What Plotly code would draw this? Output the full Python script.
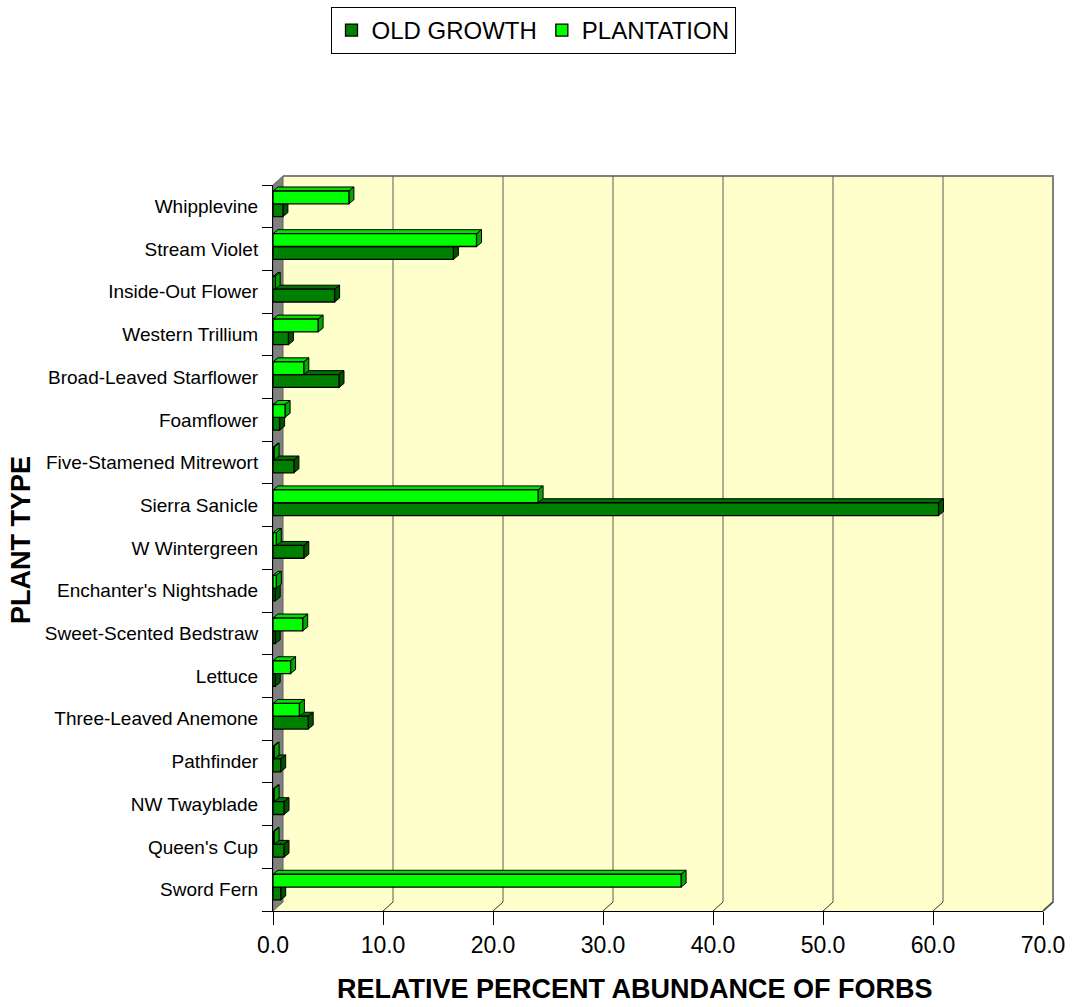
import plotly.graph_objects as go

# ---------------- data (bottom -> top) ----------------
plants = ["Sword Fern", "Queen's Cup", "NW Twayblade", "Pathfinder",
          "Three-Leaved Anemone", "Lettuce", "Sweet-Scented Bedstraw",
          "Enchanter's Nightshade", "W Wintergreen", "Sierra Sanicle",
          "Five-Stamened Mitrewort", "Foamflower", "Broad-Leaved Starflower",
          "Western Trillium", "Inside-Out Flower", "Stream Violet", "Whipplevine"]
old_growth = [0.7, 1.0, 1.0, 0.7, 3.2, 0.2, 0.2, 0.2, 2.8, 60.5,
              1.9, 0.6, 6.0, 1.4, 5.6, 16.4, 0.9]
plantation = [37.1, 0.1, 0.1, 0.1, 2.4, 1.6, 2.7, 0.3, 0.3, 24.1,
              0.1, 1.1, 2.8, 4.1, 0.2, 18.5, 6.9]
x_ticks = [0, 10, 20, 30, 40, 50, 60, 70]

# ---------------- geometry / style ----------------
W, H = 1073, 1007
L, R, T, B = 273, 30, 185, 96
PW, PH = W - L - R, H - T - B
XMAX = 70
NCAT = len(plants)
DEPTH_X, DEPTH_Y = 10, 9          # 3-D wall offset in px
CAP_X, CAP_Y = 5, 4               # 3-D bar cap offset in px
BAR_W = 0.30
OFF_OLD, OFF_PLA = -0.24, 0.06
FONT = "Liberation Sans, Arial, sans-serif"

pos = list(range(NCAT))
px_per_x = PW / XMAX
px_per_y = PH / NCAT
dxu = CAP_X / px_per_x
dyu = CAP_Y / px_per_y


def xp(px):
    return (px - L) / PW


def yp(py):
    return (T + PH - py) / PH


fig = go.Figure()
fig.add_trace(go.Bar(name="OLD GROWTH", y=pos, x=old_growth, orientation="h",
                     width=BAR_W, offset=OFF_OLD,
                     marker=dict(color="#008000", line=dict(color="black", width=1.3))))
fig.add_trace(go.Bar(name="PLANTATION", y=pos, x=plantation, orientation="h",
                     width=BAR_W, offset=OFF_PLA,
                     marker=dict(color="#00FF00", line=dict(color="black", width=1.3))))

shapes = []
back_l, back_r = L + DEPTH_X, L + PW + DEPTH_X
back_t, back_b = T - DEPTH_Y, T + PH - DEPTH_Y
# back wall
shapes.append(dict(type="rect", xref="paper", yref="paper", layer="below",
                   x0=xp(back_l), x1=xp(back_r), y0=yp(back_b), y1=yp(back_t),
                   fillcolor="#FFFFCC", line=dict(width=0)))
# floor
shapes.append(dict(type="path", xref="paper", yref="paper", layer="below",
                   path=f"M{xp(L)},{yp(T+PH)} L{xp(back_l)},{yp(back_b)} L{xp(back_r)},{yp(back_b)} L{xp(L+PW)},{yp(T+PH)} Z",
                   fillcolor="#FFFFCC", line=dict(width=0)))
# back wall top and right border
shapes.append(dict(type="path", xref="paper", yref="paper", layer="below",
                   path=f"M{xp(back_l)},{yp(back_t)} L{xp(back_r)},{yp(back_t)} L{xp(back_r)},{yp(back_b)} L{xp(L+PW)},{yp(T+PH)}",
                   line=dict(color="#808080", width=2)))
# left wall
shapes.append(dict(type="path", xref="paper", yref="paper", layer="below",
                   path=f"M{xp(L)},{yp(T)} L{xp(back_l)},{yp(back_t)} L{xp(back_l)},{yp(back_b)} L{xp(L)},{yp(T+PH)} Z",
                   fillcolor="#808080", line=dict(color="#606060", width=1)))
# gridlines on back wall and floor diagonals
for v in x_ticks[1:]:
    fx = L + v * px_per_x
    bx = fx + DEPTH_X
    if v < XMAX:
        shapes.append(dict(type="line", xref="paper", yref="paper", layer="below",
                           x0=xp(bx), x1=xp(bx), y0=yp(back_b), y1=yp(back_t),
                           line=dict(color="#5a5a5a", width=1)))
    shapes.append(dict(type="line", xref="paper", yref="paper", layer="below",
                       x0=xp(fx), x1=xp(bx), y0=yp(T + PH), y1=yp(back_b),
                       line=dict(color="#303030", width=1)))


# 3-D caps for bars (data coordinates, drawn beneath the bar faces)
def caps(values, offset, top_col, side_col):
    out = []
    for p, v in zip(pos, values):
        y0 = p + offset
        y1 = y0 + BAR_W
        out.append(dict(type="path", xref="x", yref="y", layer="between",
                        path=f"M0,{y1} L{v},{y1} L{v+dxu},{y1+dyu} L{dxu},{y1+dyu} Z",
                        fillcolor=top_col, line=dict(color="black", width=1)))
        out.append(dict(type="path", xref="x", yref="y", layer="between",
                        path=f"M{v},{y0} L{v+dxu},{y0+dyu} L{v+dxu},{y1+dyu} L{v},{y1} Z",
                        fillcolor=side_col, line=dict(color="black", width=1)))
    return out


shapes += caps(old_growth, OFF_OLD, "#006e00", "#005200")
shapes += caps(plantation, OFF_PLA, "#00e000", "#00a800")

fig.update_layout(
    width=W, height=H,
    margin=dict(l=L, r=R, t=T, b=B, autoexpand=False),
    paper_bgcolor="white", plot_bgcolor="rgba(0,0,0,0)",
    font=dict(family=FONT, color="black"),
    barmode="group", showlegend=True,
    shapes=shapes,
    legend=dict(orientation="h", x=xp(533), y=yp(7), xanchor="center", yanchor="top",
                bgcolor="white", bordercolor="black", borderwidth=1,
                font=dict(size=24, family=FONT), itemwidth=30, tracegroupgap=0),
    xaxis=dict(range=[0, XMAX], tickmode="array", tickvals=x_ticks,
               ticktext=[f"{v:.1f}" for v in x_ticks],
               showgrid=False, zeroline=False, showline=True, linecolor="black", linewidth=1,
               ticks="outside", ticklen=13, tickcolor="black",
               tickfont=dict(size=23, family=FONT)),
    yaxis=dict(range=[-0.5, NCAT - 0.5], tickmode="array", tickvals=pos, ticktext=plants,
               showgrid=False, zeroline=False, showline=True, linecolor="black", linewidth=1,
               ticks="outside", ticklen=10, tickcolor="rgba(0,0,0,0)",
               tickfont=dict(size=19, family=FONT),
               minor=dict(tickmode="array", tickvals=[p - 0.5 for p in range(NCAT + 1)],
                          ticks="outside", ticklen=10, tickcolor="black", showgrid=False)),
    annotations=[
        dict(text="<b>RELATIVE PERCENT ABUNDANCE OF FORBS</b>", xref="paper", yref="paper",
             x=xp(635), y=yp(1006), xanchor="center", yanchor="bottom", showarrow=False,
             font=dict(size=27, family=FONT)),
        dict(text="<b>PLANT TYPE</b>", xref="paper", yref="paper", textangle=-90,
             x=xp(21), y=yp(540), xanchor="center", yanchor="middle", showarrow=False,
             font=dict(size=27, family=FONT)),
    ],
)

fig.write_html("out.html")
